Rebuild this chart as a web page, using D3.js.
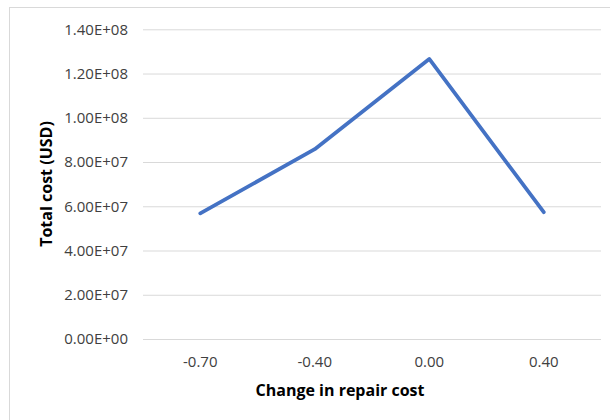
<!DOCTYPE html>
<html>
<head>
<meta charset="utf-8">
<script src="https://cdn.jsdelivr.net/npm/d3@7"></script>
<style>
  html, body { margin: 0; padding: 0; background: #fff; }
  svg { display: block; }
</style>
</head>
<body>
<svg id="chart" width="610" height="420"></svg>
<script>
const categories = ["-0.70", "-0.40", "0.00", "0.40"];
const totalCost = [5.68e7, 8.58e7, 1.266e8, 5.73e7];
const yTicks = [0, 2e7, 4e7, 6e7, 8e7, 1e8, 1.2e8, 1.4e8];
const yTickLabels = ["0.00E+00", "2.00E+07", "4.00E+07", "6.00E+07", "8.00E+07", "1.00E+08", "1.20E+08", "1.40E+08"];
const xTitle = "Change in repair cost";
const yTitle = "Total cost (USD)";

const svg = d3.select("#chart");
const font = "'Open Sans', 'Liberation Sans', sans-serif";

// chart frame
svg.append("rect")
  .attr("x", 9.5).attr("y", 7.5)
  .attr("width", 620).attr("height", 430)
  .attr("fill", "#fff")
  .attr("stroke", "#d9d9d9").attr("stroke-width", 1);

const plot = { left: 143, right: 601, top: 29.3, bottom: 339 };

const x = d3.scaleBand().domain(categories).range([plot.left, plot.right]).padding(0);
const y = d3.scaleLinear().domain([0, 1.4e8]).range([plot.bottom, plot.top]);

// gridlines
const yAxis = d3.axisLeft(y)
  .tickValues(yTicks)
  .tickSize(-(plot.right - plot.left))
  .tickPadding(15)
  .tickFormat((d, i) => yTickLabels[i]);

const gy = svg.append("g")
  .attr("transform", `translate(${plot.left},0)`)
  .call(yAxis);
gy.select(".domain").remove();
gy.selectAll(".tick line").attr("stroke", "#d9d9d9").attr("stroke-width", 1);
gy.selectAll(".tick text")
  .attr("fill", "#404040")
  .attr("font-family", font)
  .attr("font-size", "15px");

// x axis labels
const xAxis = d3.axisBottom(x).tickSize(0).tickPadding(17);
const gx = svg.append("g")
  .attr("transform", `translate(0,${plot.bottom})`)
  .call(xAxis);
gx.select(".domain").remove();
gx.selectAll(".tick text")
  .attr("fill", "#404040")
  .attr("font-family", font)
  .attr("font-size", "15px");

// line
const line = d3.line()
  .x((d, i) => x(categories[i]) + x.bandwidth() / 2)
  .y(d => y(d));

svg.append("path")
  .datum(totalCost)
  .attr("d", line)
  .attr("fill", "none")
  .attr("stroke", "#4472C4")
  .attr("stroke-width", 3.75)
  .attr("stroke-linejoin", "round")
  .attr("stroke-linecap", "round");

// axis titles
svg.append("text")
  .attr("x", 340).attr("y", 396)
  .attr("text-anchor", "middle")
  .attr("font-family", font)
  .attr("font-weight", "bold")
  .attr("font-size", "16px")
  .attr("fill", "#000")
  .text(xTitle);

svg.append("text")
  .attr("transform", "translate(52,184) rotate(-90)")
  .attr("text-anchor", "middle")
  .attr("font-family", font)
  .attr("font-weight", "bold")
  .attr("font-size", "16px")
  .attr("fill", "#000")
  .text(yTitle);
</script>
</body>
</html>
